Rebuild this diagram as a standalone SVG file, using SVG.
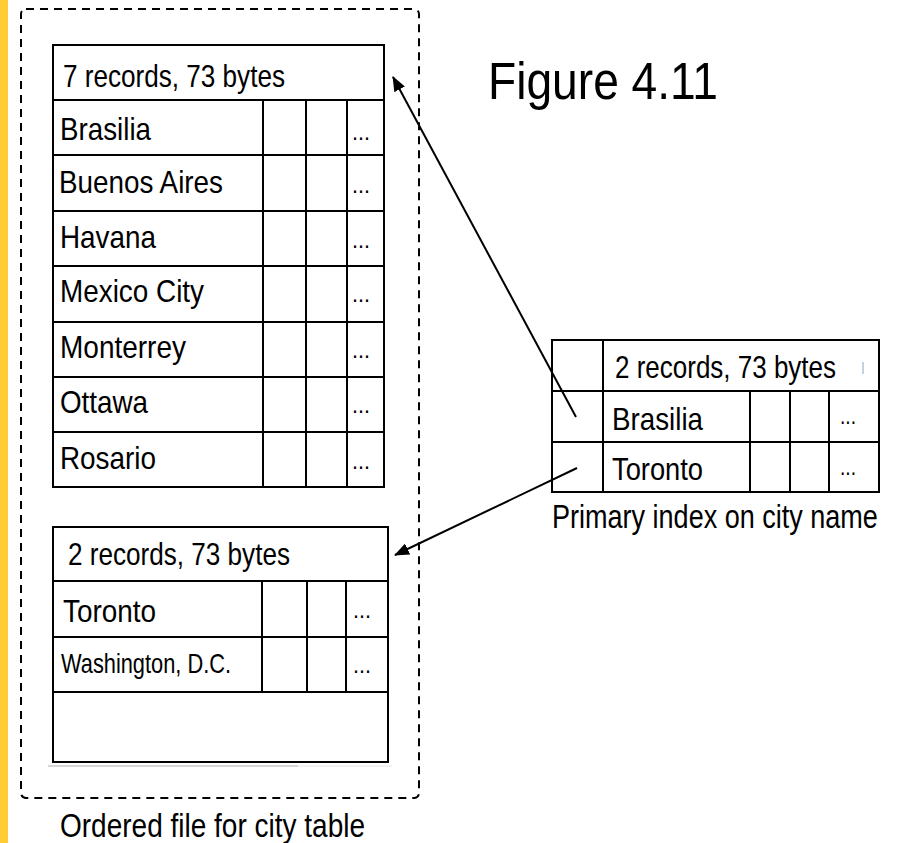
<svg xmlns="http://www.w3.org/2000/svg" width="900" height="843" viewBox="0 0 900 843">
  <style>
    text { font-family: "Liberation Sans", Arial, Helvetica, sans-serif; fill: #000; }
    .t { font-size: 31.5px; }
    .d { font-size: 24px; }
    .grid { fill: none; stroke: #000; stroke-width: 2; }
    .conn { stroke: #000; stroke-width: 2; fill: none; }
  </style>
  <defs>
    <marker id="ah" markerUnits="userSpaceOnUse" markerWidth="16" markerHeight="12" refX="14" refY="6" orient="auto">
      <path d="M0,0 L15,6 L0,12 Z" fill="#000"/>
    </marker>
  </defs>
  <rect x="0" y="0" width="900" height="843" fill="#fff"/>
  <rect x="0" y="0" width="8" height="843" fill="#FFCC33"/>

  <g id="title">
    <text x="488" y="99" style="font-size:51px" textLength="230" lengthAdjust="spacingAndGlyphs">Figure 4.11</text>
  </g>

  <g id="ordered-file">
    <rect x="21" y="9" width="398" height="789" rx="5" fill="none" stroke="#000" stroke-width="2" stroke-dasharray="8 6"/>
    <text x="60" y="837" style="font-size:33px" textLength="305" lengthAdjust="spacingAndGlyphs">Ordered file for city table</text>
  </g>

  <g id="block1">
    <rect class="grid" x="53" y="45" width="331" height="442"/>
    <path class="grid" d="M53,100H384 M53,155H384 M53,211H384 M53,266H384 M53,322H384 M53,377H384 M53,432H384 M263,100V487 M306,100V487 M347,100V487"/>
    <text class="t" x="63" y="87" textLength="222" lengthAdjust="spacingAndGlyphs">7 records, 73 bytes</text>
    <text class="t" x="60" y="140" textLength="91" lengthAdjust="spacingAndGlyphs">Brasilia</text>
    <text class="t" x="59" y="193" textLength="164" lengthAdjust="spacingAndGlyphs">Buenos Aires</text>
    <text class="t" x="60" y="248" textLength="96" lengthAdjust="spacingAndGlyphs">Havana</text>
    <text class="t" x="60" y="302" textLength="144" lengthAdjust="spacingAndGlyphs">Mexico City</text>
    <text class="t" x="60" y="358" textLength="126" lengthAdjust="spacingAndGlyphs">Monterrey</text>
    <text class="t" x="60" y="413" textLength="88" lengthAdjust="spacingAndGlyphs">Ottawa</text>
    <text class="t" x="60" y="469" textLength="96" lengthAdjust="spacingAndGlyphs">Rosario</text>
    <text class="d" x="352" y="140" textLength="18" lengthAdjust="spacingAndGlyphs">...</text>
    <text class="d" x="352" y="193" textLength="18" lengthAdjust="spacingAndGlyphs">...</text>
    <text class="d" x="352" y="248" textLength="18" lengthAdjust="spacingAndGlyphs">...</text>
    <text class="d" x="352" y="302" textLength="18" lengthAdjust="spacingAndGlyphs">...</text>
    <text class="d" x="352" y="358" textLength="18" lengthAdjust="spacingAndGlyphs">...</text>
    <text class="d" x="352" y="413" textLength="18" lengthAdjust="spacingAndGlyphs">...</text>
    <text class="d" x="352" y="469" textLength="18" lengthAdjust="spacingAndGlyphs">...</text>
  </g>

  <g id="block2">
    <rect class="grid" x="53" y="527" width="335" height="235"/>
    <path class="grid" d="M53,581H388 M53,637H388 M53,692H388 M262,581V692 M307,581V692 M346,581V692"/>
    <line x1="48" y1="766" x2="392" y2="766" stroke="#e4e4e4" stroke-width="1"/>
    <line x1="48" y1="766" x2="298" y2="766" stroke="#bdbdbd" stroke-width="1"/>
    <text class="t" x="68" y="565" textLength="222" lengthAdjust="spacingAndGlyphs">2 records, 73 bytes</text>
    <text class="t" x="63" y="622" textLength="93" lengthAdjust="spacingAndGlyphs">Toronto</text>
    <text x="61" y="673" style="font-size:27.5px" textLength="170" lengthAdjust="spacingAndGlyphs">Washington, D.C.</text>
    <text class="d" x="353" y="618" textLength="18" lengthAdjust="spacingAndGlyphs">...</text>
    <text class="d" x="353" y="673" textLength="18" lengthAdjust="spacingAndGlyphs">...</text>
  </g>

  <g id="primary-index">
    <rect class="grid" x="552" y="340" width="327" height="152"/>
    <path class="grid" d="M603,340V492 M552,391H879 M552,442H879 M750,391V492 M790,391V492 M829,391V492"/>
    <line x1="863" y1="362" x2="863" y2="374" stroke="#9fb4c4" stroke-width="1.2"/>
    <text class="t" x="615" y="378" textLength="221" lengthAdjust="spacingAndGlyphs">2 records, 73 bytes</text>
    <text class="t" x="612" y="430" textLength="91" lengthAdjust="spacingAndGlyphs">Brasilia</text>
    <text class="t" x="612" y="480" textLength="91" lengthAdjust="spacingAndGlyphs">Toronto</text>
    <text class="d" x="840" y="424" textLength="16" lengthAdjust="spacingAndGlyphs">...</text>
    <text class="d" x="840" y="475" textLength="16" lengthAdjust="spacingAndGlyphs">...</text>
    <text x="0" y="0" transform="translate(552,528) scale(0.832,1)" style="font-size:32.5px">Primary index on city name</text>
  </g>

  <g id="connectors">
    <line class="conn" x1="576" y1="417" x2="393" y2="77" marker-end="url(#ah)"/>
    <line class="conn" x1="577" y1="468" x2="395" y2="555" marker-end="url(#ah)"/>
  </g>
</svg>
